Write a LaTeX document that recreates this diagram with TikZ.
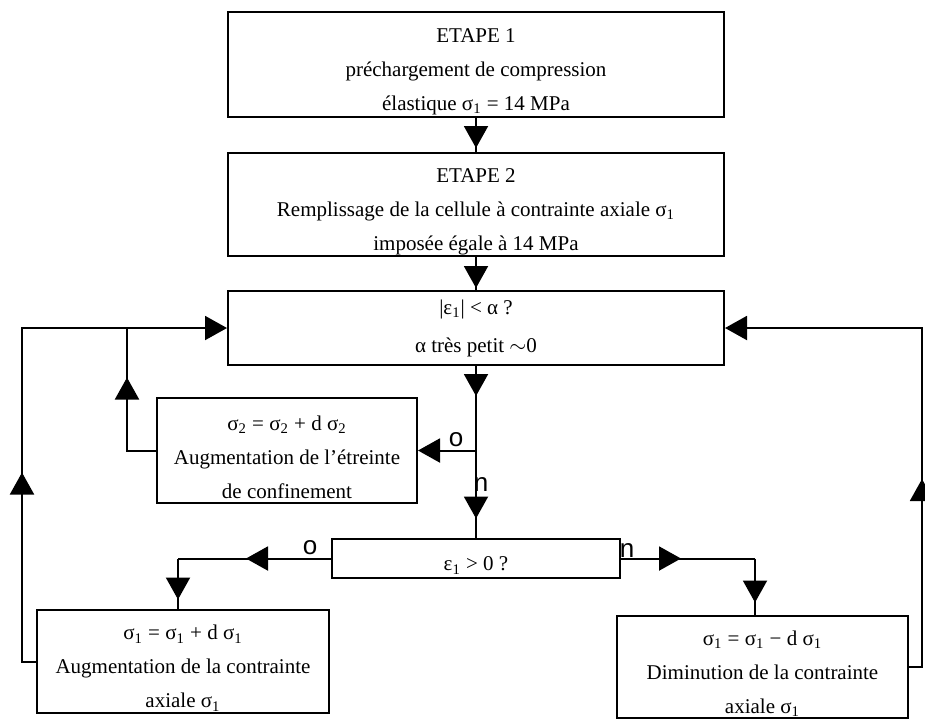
\documentclass[tikz,border=0pt]{standalone}
\usepackage{fontspec}
\setmainfont{Liberation Serif}
\setsansfont{Liberation Sans}
\usepackage{tikz}
\usetikzlibrary{arrows.meta, decorations.markings}
\newcommand{\sigm}[1]{σ\textsubscript{#1}}
\newcommand{\epsm}[1]{ε\textsubscript{#1}}
\newcommand{\lift}{\rule{0pt}{14pt}}

\begin{document}
\begin{tikzpicture}[x=0.5pt, y=-0.5pt, font=\fontsize{10.5}{17}\selectfont,
    box/.style={draw, line width=1pt, align=center, inner xsep=2pt, inner ysep=0pt},
    line/.style={line width=1pt},
    tipat/.style={postaction={decorate}, decoration={markings,
      mark=at position #1 with {\arrow{Triangle[length=11pt, width=12pt]}}}},
    endtip/.style={-{Triangle[length=11pt, width=12pt]}},
    yesno/.style={font=\sffamily\fontsize{13}{13}\selectfont}]
  \useasboundingbox (0,0) rectangle (925,720);
  \node[box, minimum width=248pt, minimum height=52.5pt] (step1) at (476,64.5)
    {\lift ETAPE 1\\préchargement de compression\\élastique \sigm{1} = 14 MPa};
  \node[box, minimum width=248pt, minimum height=51.5pt] (step2) at (476,204.5)
    {\lift ETAPE 2\\Remplissage de la cellule à contrainte axiale \sigm{1}\\imposée égale à 14 MPa};
  \node[box, minimum width=248pt, minimum height=37pt] (test1) at (476,328)
    {|\epsm{1}| < α ?\\[2pt]α très petit $\sim$0};
  \node[box, minimum width=130pt, minimum height=52.5pt] (confin) at (287,450.5)
    {\lift\sigm{2} = \sigm{2} + d \sigm{2}\\Augmentation de l'étreinte\\de confinement};
  \node[box, minimum width=144pt, minimum height=19.5pt] (test2) at (476,558.5)
    {\lift\epsm{1} > 0 ?};
  \node[box, minimum width=146pt, minimum height=51.5pt] (plus) at (183,661.5)
    {\lift\sigm{1} = \sigm{1} + d \sigm{1}\\Augmentation de la contrainte\\axiale \sigm{1}};
  \node[box, minimum width=145.5pt, minimum height=51pt] (minus) at (762.5,667)
    {\lift\sigm{1} = \sigm{1} − d \sigm{1}\\Diminution de la contrainte\\axiale \sigm{1}};

  \coordinate (split) at (476,450.5);
  \coordinate (cl) at (178,558.5);
  \coordinate (cr) at (755,558.5);
  \coordinate (lo) at (22,328);
  \coordinate (li) at (127,328);
  \coordinate (ro) at (922,328);

  \draw[line, tipat=15pt] (step1) -- (step2);
  \draw[line, tipat=15.5pt] (step2) -- (test1);
  \draw[line, tipat=15pt] (test1) -- (split);
  \draw[line, endtip] (split) -- (confin.east);
  \draw[line, tipat=34pt] (split) -- (test2);
  \draw[line, tipat=42.5pt] (test2.west) -- (cl);
  \draw[line, tipat=20.5pt] (cl) -- (cl |- plus.north);
  \draw[line, tipat=30pt] (test2.east) -- (cr);
  \draw[line, tipat=22pt] (cr) -- (cr |- minus.north);
  \draw[line, tipat=101.5pt, endtip] (plus.west) -| (lo) -- (test1.west);
  \draw[line, tipat=51pt] (confin.west) -| (li);
  \draw[line, tipat=100.5pt, endtip] (minus.east) -| (ro) -- (test1.east);

  \node[yesno] (yes1) at (456,440) {o};
  \node[yesno] (no1) at (481,484) {n};
  \node[yesno] (yes2) at (310,548) {o};
  \node[yesno] (no2) at (627,550) {n};
\end{tikzpicture}
\end{document}
